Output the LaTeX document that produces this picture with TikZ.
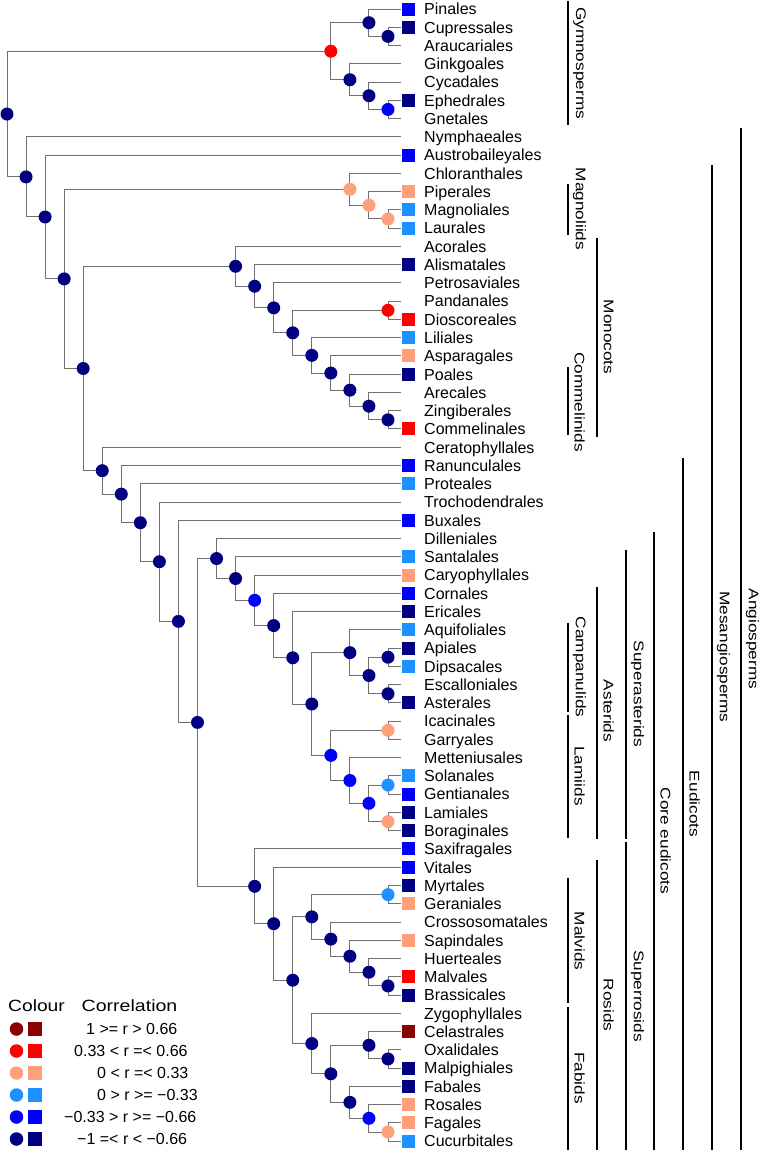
\documentclass[tikz,border=0pt]{standalone}
\usepackage{fontspec}
\setmainfont{Liberation Sans}
\usetikzlibrary{calc}
\pgfdeclarelayer{front}
\pgfsetlayers{main,front}
\definecolor{cdr}{HTML}{8B0000}
\definecolor{cr}{HTML}{FF0000}
\definecolor{cs}{HTML}{FFA07A}
\definecolor{clb}{HTML}{1E90FF}
\definecolor{cb}{HTML}{0000FF}
\definecolor{cn}{HTML}{000080}
\definecolor{brc}{HTML}{707070}
\tikzset{
  branch/.style={draw=brc, line width=1pt},
  dot/.style={circle, inner sep=0pt, minimum size=13pt, draw=none},
  sq/.style={rectangle, inner sep=0pt, minimum size=13pt, draw=none},
  lab/.style={anchor=base west, inner sep=0pt, font=\fontsize{16}{19}\selectfont},
  clade/.style={rotate=-90, inner sep=0pt, font=\fontsize{14}{17}\selectfont},
  bar/.style={draw=black, line width=2pt},
  legtxt/.style={anchor=base west, inner sep=0pt, font=\fontsize{16}{19}\selectfont},
  legdot/.style={circle, inner sep=0pt, minimum size=13.5pt, draw=none},
  legsq/.style={rectangle, inner sep=0pt, minimum size=14pt, draw=none},
}
\newcommand\leaf[2]{%
  \coordinate (#1) at (401,{9+18.26*#2});
  \node[lab] (l#1) at (424,{9+18.26*#2+5.8}) {#1};}
\newcommand\leafsq[3]{%
  \leaf{#1}{#2}%
  \begin{pgfonlayer}{front}\node[sq,fill=#3] (s#1) at (408.5,{9+18.26*#2}) {};\end{pgfonlayer}}
\newcommand\inode[5]{%
  \path ($(#3)!.5!(#4)$) coordinate (tmpc);
  \path (tmpc -| L#2) coordinate (#1);
  \draw[branch] (#1) |- (#3) (#1) |- (#4);
  \begin{pgfonlayer}{front}\node[dot,fill=#5] (d#1) at (#1) {};\end{pgfonlayer}}
\newcommand\clade[5]{% name, x bar, y1, y2, ylabel
  \draw[bar] (#2,#3) coordinate (b#1a) -- (#2,#4) coordinate (b#1b);
  \node[clade] (c#1) at ({#2+11.5},#5) {\scalebox{1.23}[1]{#1}};}
\begin{document}
\begin{tikzpicture}[x=1pt,y=-1pt]
\useasboundingbox (0,0) rectangle (761,1154);
\fill[white] (0,0) rectangle (761,1154);
\foreach \k in {0,...,20} {\coordinate (L\k) at ({7+19.05*\k},0);}
% leaves
\leafsq{Pinales}{0}{cb}
\leafsq{Cupressales}{1}{cn}
\leaf{Araucariales}{2}
\leaf{Ginkgoales}{3}
\leaf{Cycadales}{4}
\leafsq{Ephedrales}{5}{cn}
\leaf{Gnetales}{6}
\leaf{Nymphaeales}{7}
\leafsq{Austrobaileyales}{8}{cb}
\leaf{Chloranthales}{9}
\leafsq{Piperales}{10}{cs}
\leafsq{Magnoliales}{11}{clb}
\leafsq{Laurales}{12}{clb}
\leaf{Acorales}{13}
\leafsq{Alismatales}{14}{cn}
\leaf{Petrosaviales}{15}
\leaf{Pandanales}{16}
\leafsq{Dioscoreales}{17}{cr}
\leafsq{Liliales}{18}{clb}
\leafsq{Asparagales}{19}{cs}
\leafsq{Poales}{20}{cn}
\leaf{Arecales}{21}
\leaf{Zingiberales}{22}
\leafsq{Commelinales}{23}{cr}
\leaf{Ceratophyllales}{24}
\leafsq{Ranunculales}{25}{cb}
\leafsq{Proteales}{26}{clb}
\leaf{Trochodendrales}{27}
\leafsq{Buxales}{28}{cb}
\leaf{Dilleniales}{29}
\leafsq{Santalales}{30}{clb}
\leafsq{Caryophyllales}{31}{cs}
\leafsq{Cornales}{32}{cb}
\leafsq{Ericales}{33}{cn}
\leafsq{Aquifoliales}{34}{clb}
\leafsq{Apiales}{35}{cn}
\leafsq{Dipsacales}{36}{clb}
\leaf{Escalloniales}{37}
\leafsq{Asterales}{38}{cn}
\leaf{Icacinales}{39}
\leaf{Garryales}{40}
\leaf{Metteniusales}{41}
\leafsq{Solanales}{42}{clb}
\leafsq{Gentianales}{43}{cb}
\leafsq{Lamiales}{44}{cn}
\leafsq{Boraginales}{45}{cn}
\leafsq{Saxifragales}{46}{cb}
\leafsq{Vitales}{47}{cb}
\leafsq{Myrtales}{48}{cn}
\leafsq{Geraniales}{49}{cs}
\leaf{Crossosomatales}{50}
\leafsq{Sapindales}{51}{cs}
\leaf{Huerteales}{52}
\leafsq{Malvales}{53}{cr}
\leafsq{Brassicales}{54}{cn}
\leaf{Zygophyllales}{55}
\leafsq{Celastrales}{56}{cdr}
\leaf{Oxalidales}{57}
\leafsq{Malpighiales}{58}{cn}
\leafsq{Fabales}{59}{cn}
\leafsq{Rosales}{60}{cs}
\leafsq{Fagales}{61}{cs}
\leafsq{Cucurbitales}{62}{clb}
% gymnosperms
\inode{nGA}{20}{Cupressales}{Araucariales}{cn}
\inode{nGB}{19}{Pinales}{nGA}{cn}
\inode{nGC}{20}{Ephedrales}{Gnetales}{cb}
\inode{nGD}{19}{Cycadales}{nGC}{cn}
\inode{nGE}{18}{Ginkgoales}{nGD}{cn}
\inode{nGym}{17}{nGB}{nGE}{cr}
% magnoliids
\inode{nMA}{20}{Magnoliales}{Laurales}{cs}
\inode{nMB}{19}{Piperales}{nMA}{cs}
\inode{nMag}{18}{Chloranthales}{nMB}{cs}
% monocots
\inode{nCA}{20}{Zingiberales}{Commelinales}{cn}
\inode{nCB}{19}{Arecales}{nCA}{cn}
\inode{nCC}{18}{Poales}{nCB}{cn}
\inode{nCD}{17}{Asparagales}{nCC}{cn}
\inode{nCE}{16}{Liliales}{nCD}{cn}
\inode{nPD}{20}{Pandanales}{Dioscoreales}{cr}
\inode{nCF}{15}{nPD}{nCE}{cn}
\inode{nCG}{14}{Petrosaviales}{nCF}{cn}
\inode{nCH}{13}{Alismatales}{nCG}{cn}
\inode{nMono}{12}{Acorales}{nCH}{cn}
% asterids
\inode{nAA}{20}{Apiales}{Dipsacales}{cn}
\inode{nAB}{20}{Escalloniales}{Asterales}{cn}
\inode{nAC}{19}{nAA}{nAB}{cn}
\inode{nCamp}{18}{Aquifoliales}{nAC}{cn}
\inode{nLA}{20}{Icacinales}{Garryales}{cs}
\inode{nLB}{20}{Solanales}{Gentianales}{clb}
\inode{nLC}{20}{Lamiales}{Boraginales}{cs}
\inode{nLD}{19}{nLB}{nLC}{cb}
\inode{nLE}{18}{Metteniusales}{nLD}{cb}
\inode{nLam}{17}{nLA}{nLE}{cb}
\inode{nAst}{16}{nCamp}{nLam}{cn}
\inode{nEA}{15}{Ericales}{nAst}{cn}
\inode{nEB}{14}{Cornales}{nEA}{cn}
\inode{nEC}{13}{Caryophyllales}{nEB}{cb}
\inode{nED}{12}{Santalales}{nEC}{cn}
\inode{nSast}{11}{Dilleniales}{nED}{cn}
% rosids
\inode{nRA}{20}{Myrtales}{Geraniales}{clb}
\inode{nRB}{20}{Malvales}{Brassicales}{cn}
\inode{nRC}{19}{Huerteales}{nRB}{cn}
\inode{nRD}{18}{Sapindales}{nRC}{cn}
\inode{nRE}{17}{Crossosomatales}{nRD}{cn}
\inode{nMalv}{16}{nRA}{nRE}{cn}
\inode{nFA}{20}{Oxalidales}{Malpighiales}{cn}
\inode{nFB}{19}{Celastrales}{nFA}{cn}
\inode{nFC}{20}{Fagales}{Cucurbitales}{cs}
\inode{nFD}{19}{Rosales}{nFC}{cb}
\inode{nFE}{18}{Fabales}{nFD}{cn}
\inode{nFF}{17}{nFB}{nFE}{cn}
\inode{nFab}{16}{Zygophyllales}{nFF}{cn}
\inode{nRos}{15}{nMalv}{nFab}{cn}
\inode{nRF}{14}{Vitales}{nRos}{cn}
\inode{nSros}{13}{Saxifragales}{nRF}{cn}
% backbone
\inode{nCore}{10}{nSast}{nSros}{cn}
\inode{nKA}{9}{Buxales}{nCore}{cn}
\inode{nKB}{8}{Trochodendrales}{nKA}{cn}
\inode{nKC}{7}{Proteales}{nKB}{cn}
\inode{nKD}{6}{Ranunculales}{nKC}{cn}
\inode{nKE}{5}{Ceratophyllales}{nKD}{cn}
\inode{nMes2}{4}{nMono}{nKE}{cn}
\inode{nMes}{3}{nMag}{nMes2}{cn}
\inode{nAngB}{2}{Austrobaileyales}{nMes}{cn}
\inode{nAng}{1}{Nymphaeales}{nAngB}{cn}
\inode{nRoot}{0}{nGym}{nAng}{cn}
% clade bars
\clade{Gymnosperms}{568}{1}{125}{63}
\clade{Magnoliids}{568}{184}{235}{209}
\clade{Commelinids}{568}{367}{435}{402}
\clade{Monocots}{597}{238}{437}{337}
\clade{Campanulids}{568}{623}{712}{667}
\clade{Lamiids}{568}{715}{838}{776}
\clade{Malvids}{568}{878}{1003}{941}
\clade{Fabids}{568}{1007}{1150}{1078}
\clade{Asterids}{597}{587}{839}{711}
\clade{Rosids}{597}{860}{1150}{1005}
\clade{Superasterids}{626}{550}{839}{694}
\clade{Superrosids}{626}{842}{1150}{996}
\clade{Core eudicots}{654}{532}{1150}{841}
\clade{Eudicots}{683}{458}{1150}{804}
\clade{Mesangiosperms}{712}{165}{1150}{657}
\clade{Angiosperms}{741}{128}{1150}{639}
% legend
\node[anchor=base west, inner sep=0pt, font=\fontsize{16.3}{19}\selectfont] (hcol) at (8,1011.7) {\scalebox{1.18}[1]{Colour}};
\node[anchor=base west, inner sep=0pt, font=\fontsize{16.3}{19}\selectfont] (hcor) at (81.5,1011.7) {\scalebox{1.2}[1]{Correlation}};
\foreach \c/\yy/\xx/\t [count=\i] in {cdr/1029/86/{1 >= r > 0.66}, cr/1051/74/{0.33 < r =< 0.66}, cs/1073/97/{0 < r =< 0.33}, clb/1095/97/{0 > r >= −0.33}, cb/1117/64/{−0.33 > r >= −0.66}, cn/1139/77/{−1 =< r < −0.66}} {
  \node[legdot, fill=\c] (ld\i) at (16.5,\yy) {};
  \node[legsq, fill=\c] (ls\i) at (35,\yy) {};
  \node[legtxt] (lt\i) at (\xx,\yy+5.6) {\t};
}
\end{tikzpicture}
\end{document}
